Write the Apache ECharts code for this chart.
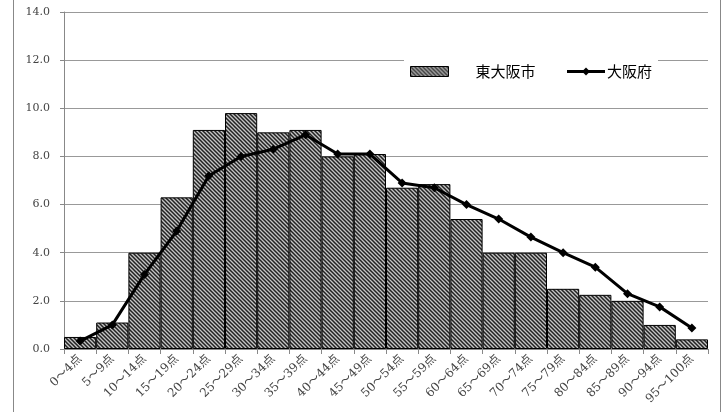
<!DOCTYPE html>
<html><head><meta charset="utf-8">
<script src="https://cdn.jsdelivr.net/npm/echarts@6/dist/echarts.min.js"></script>
<style>html,body{margin:0;padding:0;background:#fff}#c{width:723px;height:412px}</style>
</head><body><div id="c"></div>
<script>
var categories = ['0～4点','5～9点','10～14点','15～19点','20～24点','25～29点','30～34点','35～39点','40～44点','45～49点','50～54点','55～59点','60～64点','65～69点','70～74点','75～79点','80～84点','85～89点','90～94点','95～100点'];
var higashiOsaka = [0.5,1.1,4.0,6.3,9.1,9.8,9.0,9.1,8.0,8.1,6.7,6.85,5.4,4.0,4.0,2.5,2.25,2.0,1.0,0.4];
var osakaFu = [0.33,1.0,3.1,4.9,7.2,8.0,8.3,8.9,8.1,8.1,6.9,6.7,6.0,5.4,4.65,4.0,3.4,2.3,1.75,0.87];
var yTicks = {min:0, max:14, interval:2};

function hatch(){
  var s = 4, c = document.createElement('canvas');
  c.width = s; c.height = s;
  var g = c.getContext('2d');
  g.fillStyle = '#c4c4c4'; g.fillRect(0,0,s,s);
  g.strokeStyle = '#222'; g.lineWidth = 1.5;
  g.beginPath();
  g.moveTo(-1,-1); g.lineTo(s+1,s+1);
  g.moveTo(-1,s-1); g.lineTo(1,s+1);
  g.moveTo(s-1,-1); g.lineTo(s+1,1);
  g.stroke();
  return c;
}
var pat = {image: hatch(), repeat: 'repeat'};

var chart = echarts.init(document.getElementById('c'));
var serif = '"DejaVu Serif","Liberation Serif","Noto Sans CJK JP",serif';
chart.setOption({
  animation: false,
  grid: {left: 64, right: 15, top: 12, bottom: 63},
  legend: {
    left: 404, top: 56, itemGap: 30,
    backgroundColor: '#fff', padding: [8, 6, 12, 6],
    textStyle: {fontFamily: '"Noto Sans CJK JP",sans-serif', fontSize: 15, color: '#000'},
    data: [
      {name: '東大阪市', icon: 'rect', itemStyle: {color: pat, borderColor: '#000', borderWidth: 1}, textStyle: {padding: [0,0,0,22]}},
      {name: '大阪府', lineStyle: {width: 3, color: '#000'}, textStyle: {padding: [0,0,0,-3]}}
    ],
    itemWidth: 38, itemHeight: 10
  },
  xAxis: {
    type: 'category', data: categories,
    axisLine: {lineStyle: {color: '#888', width: 1}},
    axisTick: {show: true, alignWithLabel: false, length: 5, lineStyle: {color: '#888'}},
    axisLabel: {rotate: 45, interval: 0, fontFamily: serif, fontSize: 12, color: '#444', margin: 8}
  },
  yAxis: {
    type: 'value', min: yTicks.min, max: yTicks.max, interval: yTicks.interval,
    axisLine: {show: true, lineStyle: {color: '#888'}},
    axisTick: {show: true, length: 4, lineStyle: {color: '#888'}},
    splitLine: {lineStyle: {color: '#999', width: 1}},
    axisLabel: {fontFamily: serif, fontSize: 11, color: '#444', margin: 14,
      formatter: function(v){return v.toFixed(1);}}
  },
  series: [
    {name: '東大阪市', type: 'bar', data: higashiOsaka, barCategoryGap: '0%',
      itemStyle: {color: pat, borderColor: '#000', borderWidth: 1}},
    {name: '大阪府', type: 'line', data: osakaFu, symbol: 'diamond', symbolSize: 9,
      itemStyle: {color: '#000'}, lineStyle: {color: '#000', width: 3}}
  ],
  graphic: [
    {type: 'line', shape: {x1: 13.5, y1: 0, x2: 13.5, y2: 412}, style: {stroke: '#888', lineWidth: 1}},
    {type: 'line', shape: {x1: 720.5, y1: 0, x2: 720.5, y2: 412}, style: {stroke: '#888', lineWidth: 1}}
  ]
});
</script></body></html>
